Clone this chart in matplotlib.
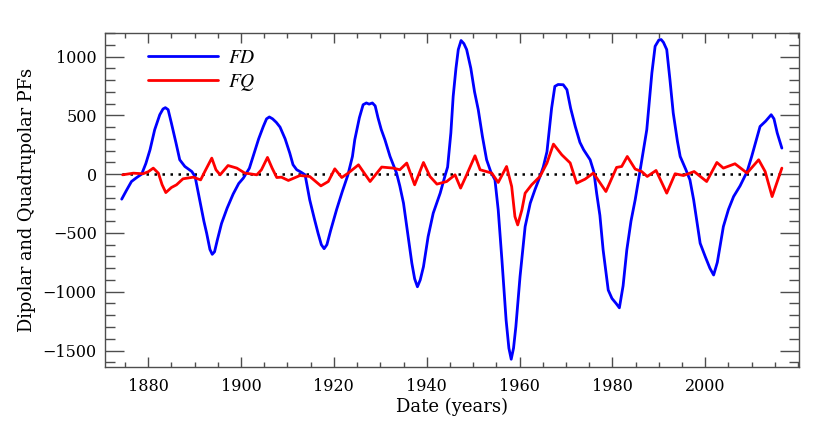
import matplotlib
matplotlib.use("Agg")
import matplotlib.pyplot as plt
from matplotlib.ticker import MultipleLocator

fd_years = [1874.3, 1875.3, 1876.4, 1877.5, 1878.6, 1879.5, 1880.4, 1881.4, 1882.5, 1883.2,
            1883.7, 1884.3, 1885.0, 1886.0, 1886.8, 1887.9, 1889.4, 1890.1, 1891.1, 1892.0,
            1892.6, 1893.3, 1893.8, 1894.3, 1894.9, 1895.8, 1897.0, 1898.3, 1899.5, 1900.5,
            1901.8, 1902.6, 1903.8, 1904.8, 1905.5, 1906.1, 1906.8, 1907.6, 1908.4, 1909.5,
            1910.5, 1911.2, 1912.0, 1913.0, 1913.8, 1914.8, 1915.8, 1916.6, 1917.3, 1917.9,
            1918.5, 1919.3, 1920.6, 1921.8, 1923.0, 1924.0, 1924.5, 1925.5, 1926.3, 1927.0,
            1927.6, 1928.3, 1928.9, 1929.5, 1930.2, 1931.0, 1932.1, 1933.0, 1933.5, 1934.2,
            1935.0, 1936.0, 1936.8, 1937.4, 1938.0, 1938.6, 1939.3, 1940.3, 1941.4, 1942.9,
            1943.9, 1944.5, 1945.2, 1945.7, 1946.3, 1946.8, 1947.4, 1948.0, 1948.6, 1949.5,
            1950.3, 1951.1, 1952.0, 1952.9, 1953.8, 1954.7, 1955.4, 1956.2, 1957.1, 1957.7,
            1958.2, 1958.7, 1959.2, 1960.1, 1961.2, 1962.3, 1963.3, 1964.4, 1965.1, 1965.9,
            1966.9, 1967.6, 1968.3, 1969.4, 1970.2, 1971.0, 1972.0, 1973.0, 1973.8, 1975.2,
            1976.0, 1976.6, 1977.3, 1978.0, 1979.1, 1979.9, 1980.8, 1981.5, 1982.3, 1983.1,
            1984.0, 1984.9, 1986.0, 1987.4, 1988.5, 1989.2, 1990.0, 1990.5, 1991.0, 1991.7,
            1992.4, 1993.1, 1994.0, 1994.6, 1995.8, 1996.7, 1997.5, 1998.9, 2000.0, 2001.0,
            2001.8, 2002.6, 2003.9, 2005.0, 2006.1, 2007.5, 2009.0, 2010.0, 2010.8, 2011.8,
            2013.0, 2014.2, 2014.8, 2015.5, 2016.5]
fd_values = [-213, -140, -63, -30, 0, 90, 207, 377, 505, 554,
             565, 548, 434, 264, 122, 65, 22, -20, -219, -400,
             -503, -640, -682, -660, -560, -420, -290, -170, -80, -34,
             50, 150, 300, 405, 470, 486, 470, 440, 400, 300,
             179, 80, 37, 15, -6, -219, -380, -503, -600, -634,
             -600, -480, -300, -150, -10, 150, 292, 480, 590, 605,
             595, 605, 580, 480, 380, 292, 150, 60, 9, -100,
             -247, -532, -758, -890, -958, -900, -787, -532, -332, -162,
             -20, 60, 350, 661, 900, 1059, 1136, 1110, 1059, 900,
             700, 548, 320, 122, 20, -49, -304, -730, -1241, -1480,
             -1574, -1480, -1298, -872, -446, -247, -134, -20, 60, 190,
             560, 746, 762, 760, 718, 560, 405, 270, 207, 122,
             20, -162, -350, -645, -986, -1057, -1100, -1137, -950, -645,
             -400, -219, 40, 377, 860, 1087, 1140, 1144, 1120, 1059,
             800, 520, 280, 150, 40, -49, -219, -588, -702, -800,
             -858, -750, -446, -300, -191, -100, 20, 150, 264, 405,
             450, 505, 470, 350, 221]

fq_years = [1874.5, 1876.8, 1878.9, 1880.0, 1881.1, 1882.2, 1883.0, 1883.8, 1885.0, 1886.1,
            1887.5, 1889.7, 1891.3, 1892.2, 1893.7, 1894.6, 1895.5, 1897.2, 1899.1, 1900.8,
            1903.4, 1904.4, 1905.7, 1906.7, 1907.7, 1908.7, 1910.2, 1912.7, 1914.8, 1917.2,
            1918.8, 1920.2, 1921.7, 1923.1, 1925.3, 1927.8, 1930.3, 1932.8, 1934.2, 1935.7,
            1937.4, 1939.3, 1940.7, 1942.2, 1944.3, 1946.1, 1947.3, 1948.6, 1950.4, 1951.5,
            1954.0, 1955.4, 1957.2, 1958.3, 1959.0, 1959.6, 1960.5, 1961.2, 1962.6, 1964.4,
            1965.9, 1967.3, 1969.1, 1970.9, 1972.3, 1974.1, 1975.9, 1978.6, 1980.9, 1982.0,
            1983.2, 1984.9, 1986.3, 1987.5, 1989.4, 1991.7, 1993.5, 1995.3, 1997.6, 2000.3,
            2002.5, 2003.9, 2006.4, 2009.0, 2011.5, 2012.9, 2014.4, 2016.5]
fq_values = [-6, 8, 3, 20, 51, 8, -90, -157, -114, -91,
             -40, -26, -49, 22, 136, 37, -6, 73, 51, 9,
             -6, 37, 142, 51, -29, -26, -54, -12, -20, -100,
             -63, 45, -29, 9, 79, -63, 60, 51, 37, 94,
             -91, 99, -20, -85, -63, -6, -119, -6, 156, 37,
             9, -71, 65, -105, -361, -432, -304, -162, -91, -20,
             94, 255, 164, 95, -77, -43, 9, -148, 57, 65,
             150, 43, 22, -20, 31, -162, 3, -12, 22, -63,
             99, 51, 88, 9, 122, 22, -191, 51]

x_ticks = [1880, 1900, 1920, 1940, 1960, 1980, 2000]
y_ticks = [-1500, -1000, -500, 0, 500, 1000]

plt.rcParams['font.family'] = ['DejaVu Serif']
plt.rcParams['mathtext.fontset'] = 'stix'

fig = plt.figure(figsize=(8.3, 4.34), dpi=100)
ax = fig.add_axes([0.1265, 0.1544, 0.8362, 0.7696])

ax.plot([fd_years[0], fd_years[-1]], [0, 0], color='black', linestyle=(0, (1, 2.2)), lw=1.8)
ax.plot(fd_years, fd_values, color='#0000ff', lw=2.0, label=r'$FD$',
        solid_joinstyle='round', solid_capstyle='round')
ax.plot(fq_years, fq_values, color='#ff0000', lw=2.0, label=r'$FQ$',
        solid_joinstyle='round', solid_capstyle='round')

ax.set_xlim(1870.7, 2020.2)
ax.set_ylim(-1640, 1200)
ax.set_xticks(x_ticks)
ax.set_yticks(y_ticks)
ax.xaxis.set_minor_locator(MultipleLocator(5))
ax.yaxis.set_minor_locator(MultipleLocator(100))
ax.tick_params(axis='both', which='both', direction='in', top=True, right=True,
               colors='0.3', labelcolor='black', labelsize=11.5, width=1.0)
ax.tick_params(axis='x', which='major', length=7, pad=8)
ax.tick_params(axis='x', which='minor', length=3.5)
ax.tick_params(axis='y', which='major', length=14, pad=6)
ax.tick_params(axis='y', which='minor', length=7)
for s in ax.spines.values():
    s.set_color('0.3')
    s.set_linewidth(1.0)

ax.set_xlabel('Date (years)', fontsize=13, labelpad=2)
ax.set_ylabel('Dipolar and Quadrupolar PFs', fontsize=12.8, labelpad=5)

leg = ax.legend(loc='upper left', bbox_to_anchor=(0.037, 1.005), frameon=False,
                handlelength=3.6, handletextpad=0.5, labelspacing=0.25,
                prop={'size': 14})

fig.savefig('out.png', dpi=100)
